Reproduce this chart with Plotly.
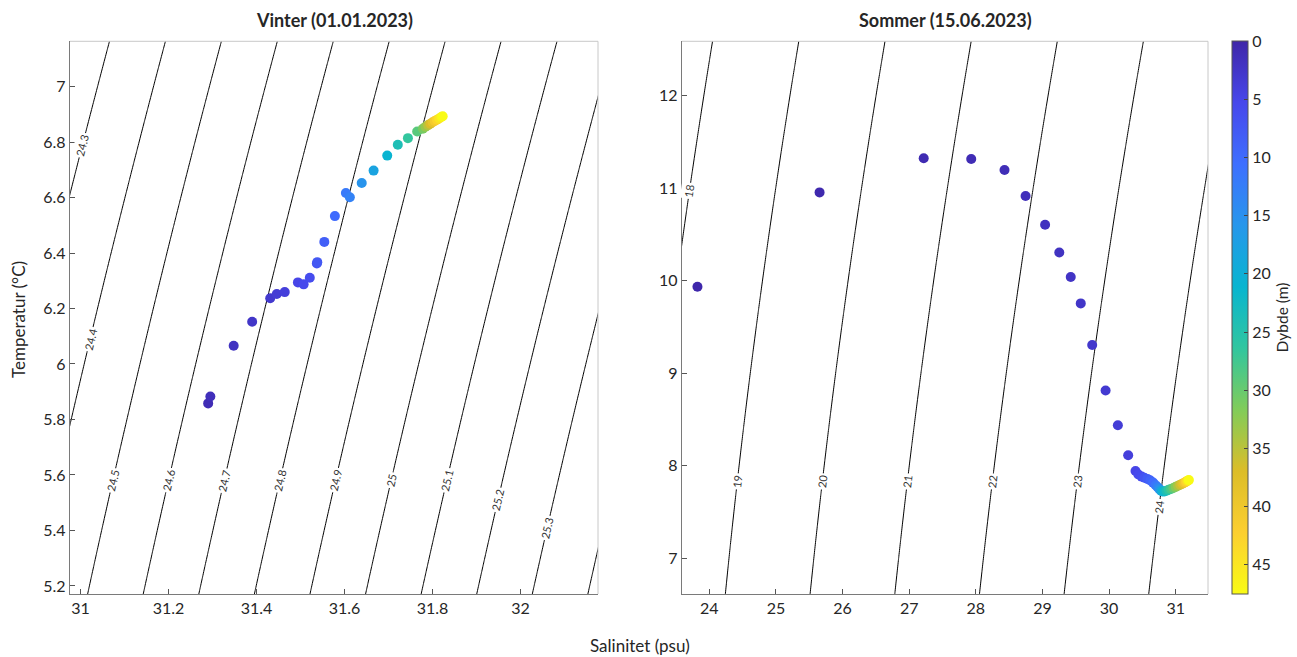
import math
import numpy as np
import plotly.graph_objects as go

# ---------------- data ----------------
win_sal = [31.290, 31.295, 31.348, 31.390, 31.431, 31.446, 31.464, 31.494, 31.507, 31.521,
           31.537, 31.538, 31.554, 31.578, 31.603, 31.612, 31.639, 31.666, 31.697, 31.721,
           31.744, 31.765, 31.778, 31.784, 31.790, 31.795, 31.800, 31.805, 31.810, 31.815,
           31.820, 31.823]
win_temp = [5.858, 5.883, 6.066, 6.152, 6.237, 6.252, 6.259, 6.294, 6.287, 6.311,
            6.362, 6.367, 6.440, 6.533, 6.616, 6.601, 6.652, 6.697, 6.751, 6.790,
            6.814, 6.838, 6.848, 6.855, 6.861, 6.866, 6.871, 6.876, 6.880, 6.885,
            6.890, 6.893]
win_depth = [1.0, 1.5, 2.0, 2.5, 3.0, 3.5, 4.0, 5.0, 5.5, 6.0,
             7.0, 7.5, 8.5, 10.0, 12.0, 13.0, 15.5, 18.0, 21.0, 24.0,
             26.5, 29.0, 31.0, 33.0, 35.0, 37.0, 39.0, 41.0, 43.0, 45.0,
             46.5, 47.5]

sum_sal = [23.822, 25.655, 27.218, 27.931, 28.431, 28.747, 29.040, 29.253, 29.425, 29.575,
           29.747, 29.948, 30.132, 30.287, 30.397, 30.440, 30.489, 30.530, 30.575, 30.620,
           30.661, 30.700, 30.730, 30.755, 30.780, 30.800, 30.830, 30.862, 30.895, 30.930,
           30.965, 31.000, 31.035, 31.068, 31.100, 31.128, 31.152, 31.172, 31.188, 31.198]
sum_temp = [9.935, 10.955, 11.323, 11.315, 11.196, 10.915, 10.605, 10.306, 10.040, 9.755,
            9.306, 8.813, 8.438, 8.114, 7.944, 7.905, 7.883, 7.870, 7.858, 7.840,
            7.818, 7.790, 7.768, 7.748, 7.730, 7.721, 7.722, 7.730, 7.740, 7.750,
            7.760, 7.772, 7.784, 7.796, 7.807, 7.817, 7.826, 7.835, 7.842, 7.846]
sum_depth = [0.2, 0.5, 0.8, 1.0, 1.2, 1.5, 1.8, 2.0, 2.3, 2.5,
             2.8, 3.2, 3.6, 4.0, 5.0, 5.5, 6.0, 7.0, 8.0, 9.0,
             10.0, 11.5, 13.0, 15.0, 17.5, 20.0, 22.0, 24.0, 26.0, 28.0,
             30.0, 32.0, 34.0, 36.0, 38.0, 40.0, 42.0, 44.0, 46.0, 47.5]

win_levels = (24.3, 25.5, 0.1)
sum_levels = (18, 26, 1)

win_xticks = [31, 31.2, 31.4, 31.6, 31.8, 32]
win_xtext = ["31", "31.2", "31.4", "31.6", "31.8", "32"]
win_yticks = [5.2, 5.4, 5.6, 5.8, 6.0, 6.2, 6.4, 6.6, 6.8, 7.0]
win_ytext = ["5.2", "5.4", "5.6", "5.8", "6", "6.2", "6.4", "6.6", "6.8", "7"]
sum_xticks = [24, 25, 26, 27, 28, 29, 30, 31]
sum_yticks = [7, 8, 9, 10, 11, 12]
cbar_ticks = [0, 5, 10, 15, 20, 25, 30, 35, 40, 45]
depth_max = 47.5

win_xrange = [30.976, 32.176]
win_yrange = [5.171, 7.163]
sum_xrange = [23.59, 31.485]
sum_yrange = [6.614, 12.588]

# temperature row where each isopycnal label sits (label placement, as in the reference)
win_label_T = {"24.3": 6.79, "24.4": 6.09, "24.5": 5.58, "24.6": 5.58, "24.7": 5.58,
               "24.8": 5.58, "24.9": 5.58, "25": 5.58, "25.1": 5.58, "25.2": 5.51,
               "25.3": 5.41}
sum_label_T = {"18": 10.97, "19": 7.83, "20": 7.83, "21": 7.83, "22": 7.83, "23": 7.83,
               "24": 7.55}

# parula colormap stops
parula = [(0.2422, 0.1504, 0.6603), (0.2803, 0.2782, 0.9221), (0.2440, 0.4358, 0.9988),
          (0.1540, 0.5902, 0.9218), (0.0297, 0.7082, 0.8163), (0.1938, 0.7758, 0.6251),
          (0.5044, 0.7993, 0.3480), (0.8634, 0.7406, 0.1596), (0.9892, 0.8136, 0.1885),
          (0.9769, 0.9839, 0.0805)]


def sigma_t(S, T):
    rw = (999.842594 + 6.793952e-2 * T - 9.095290e-3 * T**2 + 1.001685e-4 * T**3
          - 1.120083e-6 * T**4 + 6.536332e-9 * T**5)
    A = 8.24493e-1 - 4.0899e-3 * T + 7.6438e-5 * T**2 - 8.2467e-7 * T**3 + 5.3875e-9 * T**4
    B = -5.72466e-3 + 1.0227e-4 * T - 1.6546e-6 * T**2
    C = 4.8314e-4
    return rw + A * S + B * S**1.5 + C * S**2 - 1000.0


n = len(parula)
cscale = []
for i, c in reversed(list(enumerate(parula))):
    t = 1 - i / (n - 1)
    cscale.append([t, "rgb(%d,%d,%d)" % tuple(int(round(v * 255)) for v in c)])

FONT = "Lato, 'Open Sans', sans-serif"
TXT = "#262626"
W, H = 1297, 657
MR = 80
PW = W - MR
L1, R1 = 70 / PW, 598 / PW
L2, R2 = 682 / PW, 1208 / PW
B, T = 1 - 594 / H, 1 - 41.3 / H
PLOT_H = (T - B) * H

fig = go.Figure()


def add_contour(xr, yr, lev, xa, ya, label_T, dom):
    sg = np.linspace(xr[0] - 0.3, xr[1] + 0.3, 300)
    tg = np.linspace(yr[0] - 0.3, yr[1] + 0.3, 300)
    SS, TT = np.meshgrid(sg, tg)
    Z = sigma_t(SS, TT)
    fig.add_trace(go.Contour(
        x=sg, y=tg, z=Z, xaxis=xa, yaxis=ya,
        contours=dict(start=lev[0], end=lev[1], size=lev[2], coloring="none", showlabels=False),
        line=dict(color="black", width=1), showscale=False, hoverinfo="skip"))
    # inline labels along the isopycnals
    px_per_S = (dom[1] - dom[0]) * PW / (xr[1] - xr[0])
    px_per_T = PLOT_H / (yr[1] - yr[0])
    sfine = np.linspace(xr[0] - 2, xr[1] + 2, 4000)
    for txt, tl in label_T.items():
        lvl = float(txt)
        s_at = float(np.interp(lvl, sigma_t(sfine, tl), sfine))
        if not (xr[0] < s_at < xr[1]):
            continue
        dS = (sigma_t(s_at + 1e-3, tl) - sigma_t(s_at - 1e-3, tl)) / 2e-3
        dT = (sigma_t(s_at, tl + 1e-3) - sigma_t(s_at, tl - 1e-3)) / 2e-3
        slope = -dT / dS            # dS/dT along the line
        dx = slope * px_per_S
        dy = px_per_T
        ang = -math.degrees(math.atan2(dy, dx))
        fig.add_annotation(x=s_at, y=tl, xref=xa, yref=ya, text=txt, showarrow=False,
                           textangle=ang, bgcolor="white", borderpad=1,
                           font=dict(size=11, color="#333333", family=FONT))


add_contour(win_xrange, win_yrange, win_levels, "x", "y", win_label_T, (L1, R1))
add_contour(sum_xrange, sum_yrange, sum_levels, "x2", "y2", sum_label_T, (L2, R2))

fig.add_trace(go.Scatter(
    x=win_sal, y=win_temp, mode="markers", xaxis="x", yaxis="y",
    marker=dict(size=10, color=[-d for d in win_depth], colorscale=cscale,
                cmin=-depth_max, cmax=0, showscale=False, line=dict(width=0)),
    showlegend=False))
fig.add_trace(go.Scatter(
    x=sum_sal, y=sum_temp, mode="markers", xaxis="x2", yaxis="y2",
    marker=dict(size=10, color=[-d for d in sum_depth], colorscale=cscale,
                cmin=-depth_max, cmax=0, showscale=True, line=dict(width=0),
                colorbar=dict(
                    x=1232 / PW, xanchor="left", y=B, yanchor="bottom",
                    len=T - B, lenmode="fraction", thickness=16, xpad=0, ypad=0,
                    outlinecolor="#555555", outlinewidth=1,
                    tickvals=[-v for v in cbar_ticks], ticktext=[str(v) for v in cbar_ticks],
                    ticks="inside", ticklen=4, tickcolor="#444444",
                    tickfont=dict(size=16, color=TXT, family=FONT),
                    title=dict(text="Dybde (m)", side="right",
                               font=dict(size=15.5, color=TXT, family=FONT)))),
    showlegend=False))

axcommon = dict(showline=True, linecolor="#7a7a7a", linewidth=1.3, ticks="inside",
                ticklen=5, tickcolor="#555555", showgrid=False, zeroline=False,
                tickfont=dict(size=16, color=TXT, family=FONT))

fig.update_layout(
    width=W, height=H, margin=dict(l=0, r=MR, t=0, b=0, autoexpand=False),
    paper_bgcolor="white", plot_bgcolor="white", showlegend=False,
    font=dict(family=FONT, color=TXT),
    xaxis=dict(domain=[L1, R1], range=win_xrange, tickvals=win_xticks, ticktext=win_xtext,
               anchor="y", **axcommon),
    yaxis=dict(domain=[B, T], range=win_yrange, tickvals=win_yticks, ticktext=win_ytext,
               anchor="x", **axcommon),
    xaxis2=dict(domain=[L2, R2], range=sum_xrange, tickvals=sum_xticks, anchor="y2", **axcommon),
    yaxis2=dict(domain=[B, T], range=sum_yrange, tickvals=sum_yticks, anchor="x2", **axcommon),
)

for xa, ya in (("x", "y"), ("x2", "y2")):
    fig.add_shape(type="line", xref=xa + " domain", yref=ya + " domain", x0=0, x1=1, y0=1, y1=1,
                  line=dict(color="#c8c8c8", width=1))
    fig.add_shape(type="line", xref=xa + " domain", yref=ya + " domain", x0=1, x1=1, y0=0, y1=1,
                  line=dict(color="#c8c8c8", width=1))

anns = [
    dict(text="<b>Vinter (01.01.2023)</b>", x=(L1 + R1) / 2, y=1 - 20 / H, size=18),
    dict(text="<b>Sommer (15.06.2023)</b>", x=(L2 + R2) / 2, y=1 - 20 / H, size=18),
    dict(text="Salinitet (psu)", x=640 / PW, y=1 - 645 / H, size=17),
]
for a in anns:
    fig.add_annotation(text=a["text"], x=a["x"], y=a["y"], xref="paper", yref="paper",
                       showarrow=False, xanchor="center", yanchor="middle",
                       font=dict(size=a["size"], color=TXT, family=FONT))
fig.add_annotation(text="Temperatur (°C)", x=18 / PW, y=1 - 320 / H, xref="paper", yref="paper",
                   showarrow=False, textangle=-90, xanchor="center", yanchor="middle",
                   font=dict(size=17, color=TXT, family=FONT))

fig.write_html("out.html")
